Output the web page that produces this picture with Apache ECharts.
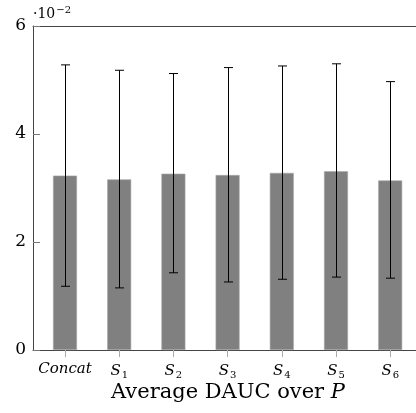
<!DOCTYPE html>
<html>
<head>
<meta charset="utf-8">
<script src="https://cdn.jsdelivr.net/npm/echarts@6/dist/echarts.min.js"></script>
<style>
  html, body { margin: 0; padding: 0; background: #fff; }
  #chart { width: 416px; height: 413px; }
</style>
</head>
<body>
<div id="chart"></div>
<script>
// values in units of 10^-2
const categories = ['Concat', 'S1', 'S2', 'S3', 'S4', 'S5', 'S6'];
const meanDauc = [3.23, 3.16, 3.265, 3.24, 3.28, 3.31, 3.14];
const errLow = [1.18, 1.15, 1.43, 1.26, 1.31, 1.35, 1.33];
const errHigh = [5.28, 5.18, 5.12, 5.23, 5.26, 5.30, 4.97];
const yTicks = [0, 2, 4, 6];

const serif = '"DejaVu Serif", "Liberation Serif", serif';
const chart = echarts.init(document.getElementById('chart'));

const frameLine = { show: true, onZero: false, lineStyle: { color: '#444', width: 1 } };
const frameLeft = 33;

const option = {
  animation: false,
  textStyle: { fontFamily: serif },
  grid: [
    // frame + y axis (plot continues past the right edge of the canvas)
    { left: frameLeft, top: 26, right: 0, bottom: 63, outerBoundsMode: 'none' },
    // bars
    { left: 37.9, top: 26, width: 379.4, bottom: 63, outerBoundsMode: 'none' }
  ],
  xAxis: [
    { gridIndex: 0, type: 'value', min: 0, max: 1, position: 'bottom',
      axisLine: frameLine, axisTick: { show: false }, axisLabel: { show: false }, splitLine: { show: false } },
    { gridIndex: 0, type: 'value', min: 0, max: 1, position: 'top',
      axisLine: frameLine, axisTick: { show: false }, axisLabel: { show: false }, splitLine: { show: false } },
    {
      gridIndex: 1,
      type: 'category',
      data: categories,
      axisLine: { show: false },
      axisTick: { show: true, alignWithLabel: true, length: 7, lineStyle: { color: '#aaa' } },
      axisLabel: {
        interval: 0,
        margin: 12,
        color: '#000',
        formatter: function (v) {
          if (v[0] === 'S') return '{i|S}{sub|' + v.slice(1) + '}';
          return '{i|' + v + '}';
        },
        rich: {
          i: { fontStyle: 'italic', fontSize: 15, fontFamily: serif, color: '#000' },
          sub: { fontSize: 10, fontFamily: serif, color: '#000', padding: [8, 0, 0, 1] }
        }
      }
    }
  ],
  yAxis: [
    {
      gridIndex: 0,
      type: 'value',
      min: 0,
      max: 6,
      interval: 2,
      position: 'left',
      axisLine: frameLine,
      axisTick: { show: true, inside: true, length: 7, lineStyle: { color: '#777', width: 1 } },
      splitLine: { show: false },
      axisLabel: { margin: 7, fontSize: 17, color: '#000', fontFamily: serif }
    },
    { gridIndex: 1, type: 'value', min: 0, max: 6, show: false }
  ],
  graphic: [
    {
      type: 'text',
      left: 33,
      top: 5,
      style: {
        text: '{a|·10}{b|−2}',
        rich: {
          a: { fontSize: 14, fontFamily: serif, fill: '#000' },
          b: { fontSize: 10, fontFamily: serif, fill: '#000', padding: [0, 0, 8, 1] }
        }
      }
    },
    {
      type: 'text',
      x: 228,
      y: 393,
      style: {
        text: '{a|Average DAUC over }{b|P}',
        align: 'center',
        verticalAlign: 'middle',
        rich: {
          a: { fontSize: 21, fontFamily: serif, fill: '#000' },
          b: { fontSize: 21, fontFamily: serif, fontStyle: 'italic', fill: '#000' }
        }
      }
    }
  ],
  series: [
    {
      type: 'bar',
      xAxisIndex: 2,
      yAxisIndex: 1,
      data: meanDauc,
      barWidth: 24,
      itemStyle: { color: '#808080', borderColor: '#a8a8a8', borderWidth: 0.6 }
    },
    {
      type: 'custom',
      xAxisIndex: 2,
      yAxisIndex: 1,
      data: categories.map(function (c, i) { return [i, errLow[i], errHigh[i]]; }),
      renderItem: function (params, api) {
        const lo = api.coord([api.value(0), api.value(1)]);
        const hi = api.coord([api.value(0), api.value(2)]);
        const x = Math.round(lo[0]) + 0.5;
        const cap = 4.5;
        const st = { stroke: '#000', lineWidth: 1 };
        return {
          type: 'group',
          children: [
            { type: 'line', shape: { x1: x, y1: lo[1], x2: x, y2: hi[1] }, style: st },
            { type: 'line', shape: { x1: x - cap, y1: lo[1], x2: x + cap, y2: lo[1] }, style: st },
            { type: 'line', shape: { x1: x - cap, y1: hi[1], x2: x + cap, y2: hi[1] }, style: st }
          ]
        };
      },
      z: 5
    },
    {
      // inward y tick marks, drawn on the bar grid's (identical) y scale
      type: 'custom',
      xAxisIndex: 2,
      yAxisIndex: 1,
      clip: false,
      silent: true,
      data: yTicks.map(function (v) { return [0, v]; }),
      renderItem: function (params, api) {
        const p = api.coord([0, api.value(1)]);
        const y = Math.round(p[1]) + 0.5;
        return {
          type: 'line',
          shape: { x1: frameLeft, y1: y, x2: frameLeft + 7, y2: y },
          style: { stroke: '#777', lineWidth: 1 }
        };
      },
      z: 6
    }
  ]
};

chart.setOption(option);
</script>
</body>
</html>
